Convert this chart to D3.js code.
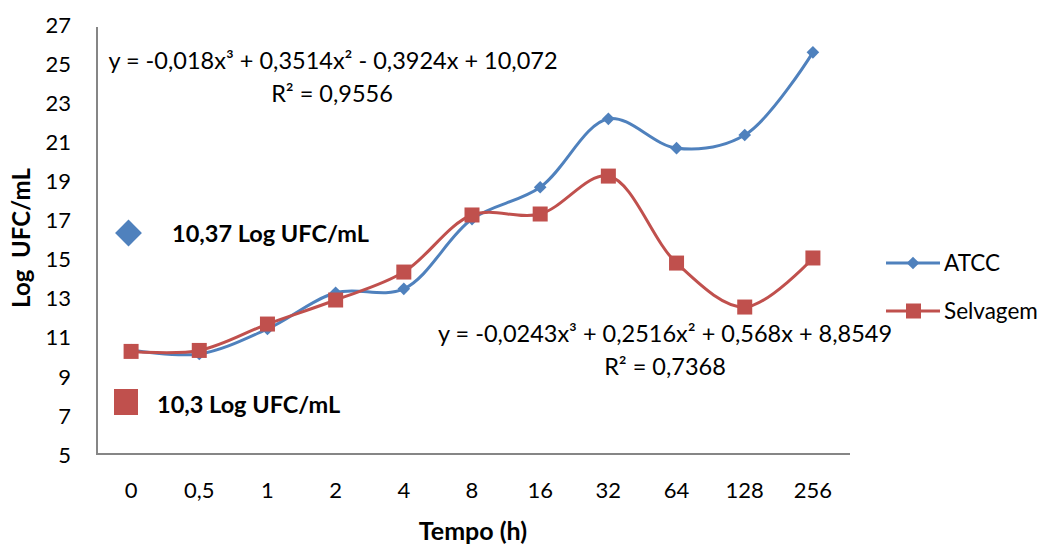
<!DOCTYPE html>
<html><head><meta charset="utf-8">
<script src="https://cdn.jsdelivr.net/npm/d3@7"></script>
<style>body{margin:0;background:#fff}svg{display:block}text{font-family:Lato,"Open Sans",sans-serif;fill:#000}</style>
</head><body><svg id="c" width="1048" height="545"></svg>
<script>
const categories = ["0","0,5","1","2","4","8","16","32","64","128","256"];
const atcc = [10.37,10.17,11.45,13.3,13.5,17.07,18.7,22.2,20.7,21.37,25.6];
const selvagem = [10.3,10.35,11.7,12.93,14.36,17.28,17.33,19.27,14.82,12.57,15.08];
const yTicks = [5,7,9,11,13,15,17,19,21,23,25,27];
const seriesNames = ["ATCC","Selvagem"];
const colors = ["#4F81BD","#C0504D"];

const svg = d3.select("#c");
const x = d3.scaleBand().domain(categories).range([97,847]);
const y = d3.scaleLinear().domain([5,27]).range([455,25]);

svg.append("line").attr("x1",97).attr("x2",850).attr("y1",y(5)-1).attr("y2",y(5)-1).attr("stroke","#868686").attr("stroke-width",2);
svg.append("line").attr("x1",97).attr("x2",97).attr("y1",y(27)+2).attr("y2",y(5)).attr("stroke","#868686").attr("stroke-width",2);

svg.selectAll(".yt").data(yTicks).enter().append("text")
  .attr("x",71).attr("y",d=>y(d)).attr("dy","0.35em").attr("text-anchor","end")
  .style("font-size","22px").text(d=>d);
svg.selectAll(".xt").data(categories).enter().append("text")
  .attr("x",d=>x(d)+x.bandwidth()/2).attr("y",490).attr("dy","0.35em").attr("text-anchor","middle")
  .style("font-size","22px").text(d=>d);

svg.append("text").attr("x",473).attr("y",531).attr("dy","0.35em").attr("text-anchor","middle")
  .style("font-size","25px").style("font-weight","bold").text("Tempo (h)");
svg.append("text").attr("transform","translate(22,238) rotate(-90)").attr("dy","0.35em").attr("text-anchor","middle")
  .style("font-size","24px").style("font-weight","bold").attr("xml:space","preserve").text("Log  UFC/mL");

const line = d3.line().x((d,i)=>x(categories[i])+x.bandwidth()/2).y(d=>y(d)).curve(d3.curveCatmullRom.alpha(0.5));
[atcc,selvagem].forEach((s,k)=>{
  svg.append("path").attr("d",line(s)).attr("fill","none").attr("stroke",colors[k]).attr("stroke-width",3);
});
svg.selectAll(".ma").data(atcc).enter().append("path")
  .attr("d",d3.symbol().type(d3.symbolSquare).size(80)())
  .attr("transform",(d,i)=>`translate(${x(categories[i])+x.bandwidth()/2},${y(d)}) rotate(45)`)
  .attr("fill",colors[0]);
svg.selectAll(".ms").data(selvagem).enter().append("rect")
  .attr("x",(d,i)=>x(categories[i])+x.bandwidth()/2-7.5).attr("y",d=>y(d)-7.5).attr("width",15).attr("height",15)
  .attr("fill",colors[1]);

// annotations
svg.append("path").attr("d",d3.symbol().type(d3.symbolSquare).size(360)()).attr("transform","translate(128.5,233) rotate(45)").attr("fill",colors[0]);
svg.append("text").attr("x",172).attr("y",234).attr("dy","0.35em").style("font-size","23.5px").style("font-weight","bold").text("10,37 Log UFC/mL");
svg.append("rect").attr("x",114).attr("y",389).attr("width",24).attr("height",26).attr("fill",colors[1]);
svg.append("text").attr("x",157).attr("y",405).attr("dy","0.35em").style("font-size","23.5px").style("font-weight","bold").text("10,3 Log UFC/mL");

function eq(t, xc, yc){
  svg.append("text").attr("x",xc).attr("y",yc).attr("dy","0.35em").attr("text-anchor","middle").style("font-size","23.5px").text(t);
}
eq("y = -0,018x³ + 0,3514x² - 0,3924x + 10,072",333,61);
eq("R² = 0,9556",332,94);
eq("y = -0,0243x³ + 0,2516x² + 0,568x + 8,8549",665,334);
eq("R² = 0,7368",665,367);

// legend
const leg = [{n:seriesNames[0],y:263},{n:seriesNames[1],y:311}];
leg.forEach((l,k)=>{
  svg.append("line").attr("x1",886).attr("x2",940).attr("y1",l.y).attr("y2",l.y).attr("stroke",colors[k]).attr("stroke-width",3);
  if(k===0) svg.append("path").attr("d",d3.symbol().type(d3.symbolSquare).size(80)()).attr("transform",`translate(913,${l.y}) rotate(45)`).attr("fill",colors[0]);
  else svg.append("rect").attr("x",906).attr("y",l.y-7.5).attr("width",15).attr("height",15).attr("fill",colors[1]);
  svg.append("text").attr("x",944).attr("y",l.y).attr("dy","0.35em").style("font-size","22.5px").text(l.n);
});
</script></body></html>
